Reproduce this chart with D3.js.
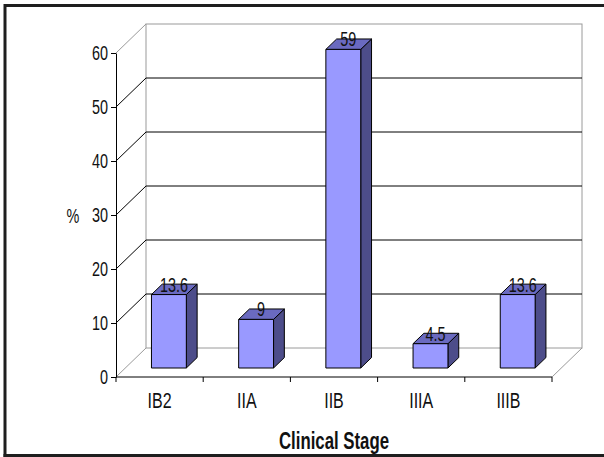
<!DOCTYPE html>
<html>
<head>
<meta charset="utf-8">
<script src="https://cdn.jsdelivr.net/npm/d3@7/dist/d3.min.js"></script>
<style>
  html, body { margin: 0; padding: 0; background: #fff; }
  svg { display: block; }
  text { font-family: "Liberation Sans", Arial, sans-serif; }
</style>
</head>
<body>
<svg id="chart" width="604" height="457"></svg>
<script>
// Share of patients by clinical stage
const stages = ["IB2", "IIA", "IIB", "IIIA", "IIIB"];
const percents = [13.6, 9, 59, 4.5, 13.6];
const yTicks = [0, 10, 20, 30, 40, 50, 60];
const axisTitleX = "Clinical Stage";
const axisTitleY = "%";

// condensed, slightly tall lettering
const NARROW = 0.8, TALL = 1.12;

const svg = d3.select("#chart");

function narrowText(parent, px, py, str, opts) {
  return parent.append("text")
    .attr("transform", `translate(${px},${py}) scale(${NARROW},${TALL})`)
    .attr("text-anchor", opts.anchor || "middle")
    .attr("font-size", opts.size)
    .attr("font-weight", opts.weight || "normal")
    .attr("fill", "#111")
    .text(str);
}

// frame of the picture
svg.append("path")
  .attr("d", "M5,457 L5,5.5 L604,5.5")
  .attr("fill", "none").attr("stroke", "#1e1e1e").attr("stroke-width", 3);
svg.append("line")
  .attr("x1", 3.5).attr("x2", 604).attr("y1", 455.5).attr("y2", 455.5)
  .attr("stroke", "#1e1e1e").attr("stroke-width", 3);

// front plane scales
const x = d3.scaleBand().domain(stages).range([116, 552]).paddingInner(0.6).paddingOuter(0.3);
const y = d3.scaleLinear().domain([0, 60]).range([377, 53]);

// 3D depth of the plot box and of the bars
const DX = 30, DY = -29;
const barFront = 0.31, barBack = 0.67;

const [x0, x1] = x.range();
const wallGrey = "#9a9a9a";

// back wall
svg.append("rect")
  .attr("x", x0 + DX).attr("y", y(60) + DY)
  .attr("width", x1 - x0).attr("height", y(0) - y(60))
  .attr("fill", "#fff").attr("stroke", wallGrey).attr("stroke-width", 1);

// left side wall edges and floor edges
const grey = svg.append("g").attr("stroke", wallGrey).attr("stroke-width", 1).attr("fill", "none");
grey.append("line").attr("x1", x0).attr("y1", y(60)).attr("x2", x0 + DX).attr("y2", y(60) + DY);
grey.append("line").attr("x1", x0).attr("y1", y(0)).attr("x2", x0 + DX).attr("y2", y(0) + DY);
grey.append("line").attr("x1", x1).attr("y1", y(0)).attr("x2", x1 + DX).attr("y2", y(0) + DY);

// gridlines: on the left wall and across the back wall
const inner = yTicks.filter(v => v > 0 && v < 60);
const grid = svg.append("g").attr("stroke", "#000").attr("stroke-width", 1).attr("fill", "none");
inner.forEach(v => {
  grid.append("path")
    .attr("d", `M${x0},${y(v)} L${x0 + DX},${y(v) + DY} L${x1 + DX},${y(v) + DY}`);
});

// bars
const fx = barFront * DX, fy = barFront * DY;
const d = (barBack - barFront);
const bx = d * DX, by = d * DY;
const bars = svg.append("g").attr("stroke", "#000").attr("stroke-width", 1).attr("stroke-linejoin", "round");
stages.forEach((s, i) => {
  const v = percents[i];
  const l = x(s) + fx, r = l + x.bandwidth();
  const t = y(v) + fy, b = y(0) + fy;
  const g = bars.append("g");
  // side face
  g.append("path")
    .attr("d", `M${r},${b} L${r},${t} L${r + bx},${t + by} L${r + bx},${b + by} Z`)
    .attr("fill", "#4d4d8a");
  // top face
  g.append("path")
    .attr("d", `M${l},${t} L${r},${t} L${r + bx},${t + by} L${l + bx},${t + by} Z`)
    .attr("fill", "#6a6ac0");
  // front face
  g.append("rect")
    .attr("x", l).attr("y", t).attr("width", r - l).attr("height", b - t)
    .attr("fill", "#9999ff");
});

// value labels
const vl = svg.append("g");
stages.forEach((s, i) => {
  narrowText(vl, x(s) + fx + x.bandwidth() / 2 + 5, y(percents[i]) + fy - 3, percents[i], { size: 18 });
});

// y axis
const yAxis = d3.axisLeft(y).tickValues(yTicks).tickSize(5).tickSizeOuter(0).tickPadding(3);
const ya = svg.append("g").attr("transform", `translate(${x0},0)`).call(yAxis);
ya.select(".domain").attr("stroke", "#000");
ya.selectAll(".tick line").attr("stroke", "#000");
ya.selectAll(".tick text")
  .attr("font-size", 18).attr("fill", "#111")
  .attr("font-family", "Liberation Sans, Arial, sans-serif")
  .attr("x", -8 / NARROW)
  .attr("transform", `scale(${NARROW},${TALL})`);

// x axis: line with ticks at category boundaries
const xa = svg.append("g");
xa.append("line").attr("x1", x0).attr("x2", x1).attr("y1", y(0)).attr("y2", y(0)).attr("stroke", "#000");
d3.range(stages.length + 1).forEach(i => {
  const px = x0 + i * x.step();
  xa.append("line").attr("x1", px).attr("x2", px).attr("y1", y(0)).attr("y2", y(0) + 5).attr("stroke", "#000");
});
stages.forEach(s => {
  narrowText(xa, x(s) + x.bandwidth() / 2, 408, s, { size: 20 });
});

// axis titles
narrowText(svg, 334, 449, axisTitleX, { size: 21, weight: "bold" });
narrowText(svg, 73, 223, axisTitleY, { size: 18 });
</script>
</body>
</html>
